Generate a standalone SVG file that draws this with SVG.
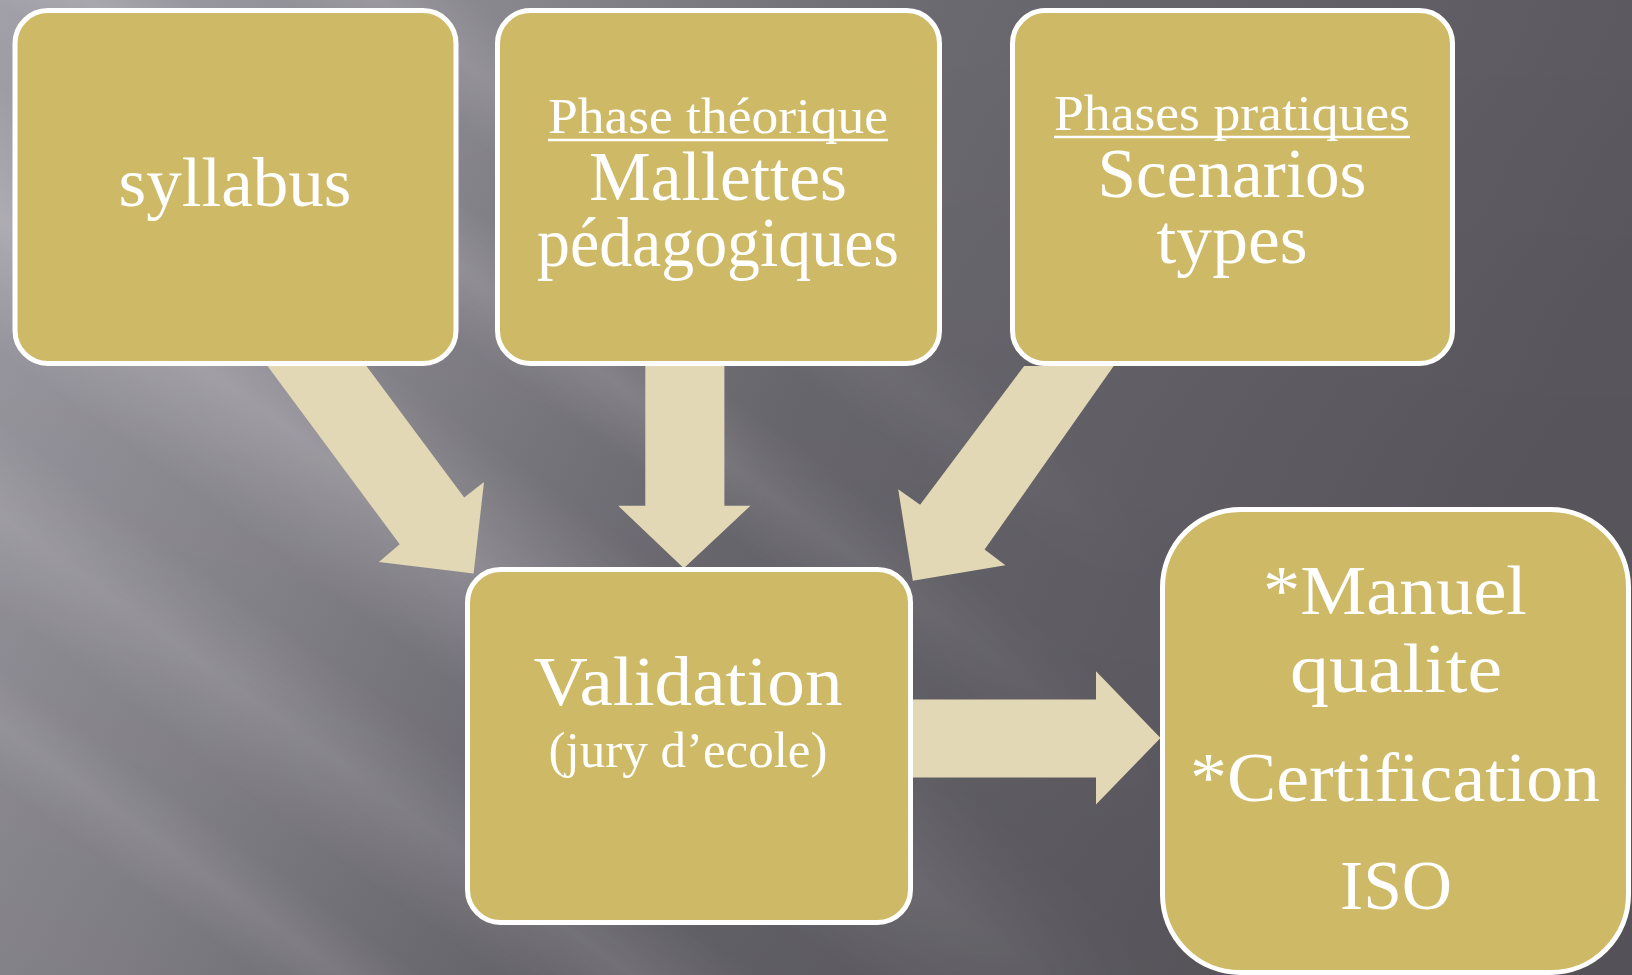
<svg xmlns="http://www.w3.org/2000/svg" width="1632" height="975" viewBox="0 0 1632 975">
<defs>
<linearGradient id="bg" x1="0" y1="0" x2="1" y2="0.25">
<stop offset="0" stop-color="#a19fa7"/>
<stop offset="0.3" stop-color="#88868d"/>
<stop offset="0.55" stop-color="#6b6970"/>
<stop offset="1" stop-color="#5a585e"/>
</linearGradient>
<linearGradient id="vshade" x1="0" y1="0" x2="0" y2="1">
<stop offset="0" stop-color="#000" stop-opacity="0"/>
<stop offset="1" stop-color="#000" stop-opacity="0.07"/>
</linearGradient>
<linearGradient id="streak" x1="0" y1="0" x2="0" y2="1">
<stop offset="0" stop-color="#fff" stop-opacity="0"/>
<stop offset="0.5" stop-color="#fff" stop-opacity="0.2"/>
<stop offset="1" stop-color="#fff" stop-opacity="0"/>
</linearGradient>
<linearGradient id="fade" gradientUnits="userSpaceOnUse" x1="0" y1="0" x2="1632" y2="0">
<stop offset="0" stop-color="#fff"/>
<stop offset="0.4" stop-color="#fff" stop-opacity="0.85"/>
<stop offset="0.72" stop-color="#fff" stop-opacity="0"/>
</linearGradient>
<mask id="fm" maskUnits="userSpaceOnUse" x="0" y="0" width="1632" height="975">
<rect x="0" y="0" width="1632" height="975" fill="url(#fade)"/>
</mask>
<style>
.box{fill:#ceb966;stroke:#ffffff;stroke-width:5}
.arr{fill:#e2d8b6}
.t{font-family:"Liberation Serif","Times New Roman",serif;fill:#ffffff;text-anchor:middle}
.big{font-size:70px}
.sub{font-size:50px}
.ul{stroke:#ffffff;stroke-width:2.5}
</style>
</defs>
<g id="background">
<rect width="1632" height="975" fill="url(#bg)"/>
<rect width="1632" height="975" fill="url(#vshade)"/>
<g mask="url(#fm)">
<g transform="rotate(36 300 450)">
<rect x="-700" y="330" width="2400" height="220" fill="url(#streak)"/>
<rect x="-700" y="150" width="2400" height="120" fill="url(#streak)" opacity="0.7"/>
<rect x="-700" y="600" width="2400" height="160" fill="url(#streak)" opacity="0.6"/>
<rect x="-700" y="800" width="2400" height="100" fill="url(#streak)" opacity="0.45"/>
<rect x="-700" y="-20" width="2400" height="120" fill="url(#streak)" opacity="0.6"/>
</g>
</g>
</g>
<g id="connectors">
<polygon class="arr" points="267.5,366 366.4,366 464.2,497.5 484,482 473.6,573.5 378.9,562 399.7,544.3"/>
<polygon class="arr" points="645.3,366 724.4,366 724.4,505.8 750.4,505.8 683.8,568.3 618.2,505.8 645.3,505.8"/>
<polygon class="arr" points="1113.7,366 1024.1,366 920.1,504.8 898.2,489.2 912.8,580.8 1005.4,565.2 984.6,549.5"/>
<polygon class="arr" points="911.8,699.4 1096,699.4 1096,671.3 1160.5,737.9 1096,804.5 1096,777.5 911.8,777.5"/>
</g>
<g id="node-syllabus">
<rect class="box" x="15" y="10.5" width="441" height="353" rx="33"/>
<text class="t big" x="235" y="206" textLength="233" lengthAdjust="spacingAndGlyphs">syllabus</text>
</g>
<g id="node-theorique">
<rect class="box" x="497.5" y="10.5" width="442" height="353" rx="33"/>
<text class="t sub" x="718" y="133" textLength="340" lengthAdjust="spacingAndGlyphs">Phase théorique</text>
<line class="ul" x1="548" y1="140" x2="888" y2="140"/>
<text class="t big" x="718" y="200" textLength="258" lengthAdjust="spacingAndGlyphs">Mallettes</text>
<text class="t big" x="718" y="266" textLength="362" lengthAdjust="spacingAndGlyphs">pédagogiques</text>
</g>
<g id="node-pratiques">
<rect class="box" x="1012.5" y="10.5" width="440" height="353" rx="33"/>
<text class="t sub" x="1232" y="130" textLength="356" lengthAdjust="spacingAndGlyphs">Phases pratiques</text>
<line class="ul" x1="1054" y1="137" x2="1410" y2="137"/>
<text class="t big" x="1232" y="197" textLength="269" lengthAdjust="spacingAndGlyphs">Scenarios</text>
<text class="t big" x="1232" y="263" textLength="151" lengthAdjust="spacingAndGlyphs">types</text>
</g>
<g id="node-validation">
<rect class="box" x="467.5" y="569.5" width="443" height="353" rx="33"/>
<text class="t big" x="688" y="705" textLength="309" lengthAdjust="spacingAndGlyphs">Validation</text>
<text class="t sub" x="688" y="767" textLength="279" lengthAdjust="spacingAndGlyphs">(jury d’ecole)</text>
</g>
<g id="node-qualite">
<rect class="box" x="1162.5" y="509.5" width="466" height="463" rx="78"/>
<text class="t big" x="1395" y="614" textLength="264" lengthAdjust="spacingAndGlyphs">*Manuel</text>
<text class="t big" x="1396" y="692" textLength="212" lengthAdjust="spacingAndGlyphs">qualite</text>
<text class="t big" x="1395" y="801" textLength="410" lengthAdjust="spacingAndGlyphs">*Certification</text>
<text class="t big" x="1396" y="909" textLength="112" lengthAdjust="spacingAndGlyphs">ISO</text>
</g>
</svg>
